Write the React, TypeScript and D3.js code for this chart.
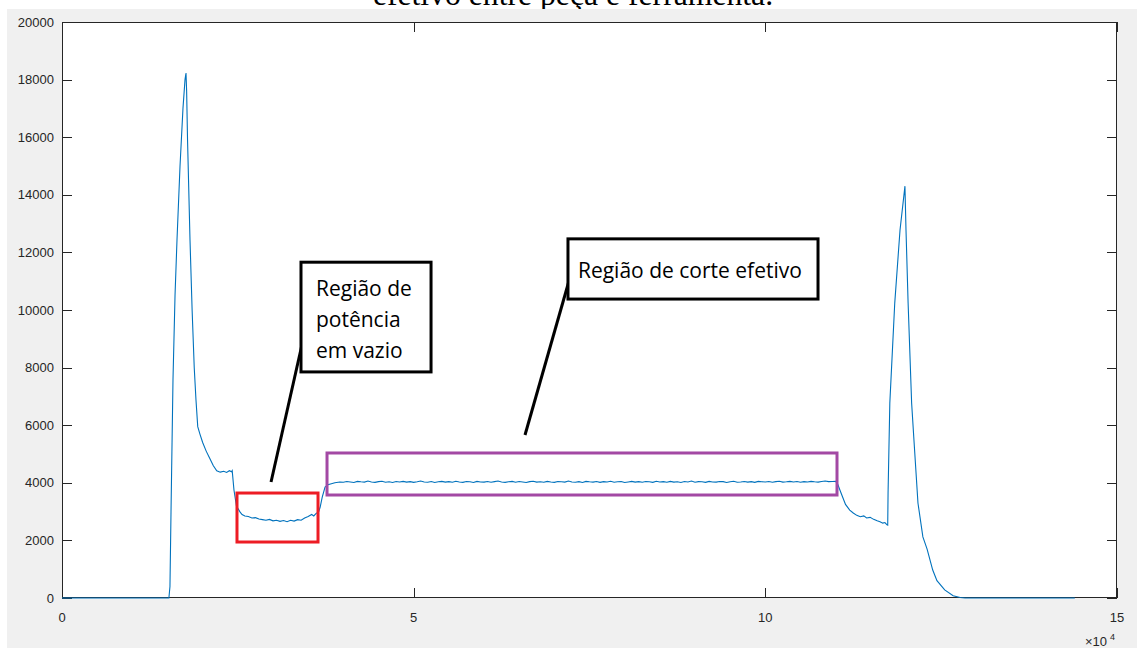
import React from 'react';
import * as d3 from 'd3';

// ---------- data (sample index, power) ----------
const headSamples = [0, 5000, 10000, 15200, 15350, 15500, 15780, 16070, 16350, 16780, 17200, 17490, 17630, 17720, 17850, 18200, 18500, 18800, 19050, 19300, 19600, 20000, 20500, 21000, 21500, 22000, 22500, 23000, 23400, 23800, 24100, 24200, 24450, 24800, 25300, 25600, 26000, 26500, 27000, 27500, 28000, 28500, 29000, 29500, 30000, 30500, 31000, 31500, 32000, 32500, 33000, 33500, 34000, 34500, 35000, 35500, 35800, 36100, 36500, 36700, 37000, 37400, 37800, 38300, 38800, 39500];
const headPower = [0, 0, 0, 0, 400, 3000, 7570, 10500, 12430, 15000, 17000, 18000, 18230, 17600, 15900, 12430, 10000, 8000, 6875, 5950, 5700, 5400, 5100, 4850, 4600, 4420, 4370, 4400, 4360, 4420, 4380, 4420, 3750, 3200, 2990, 2900, 2850, 2830, 2780, 2790, 2740, 2720, 2700, 2730, 2680, 2700, 2660, 2690, 2650, 2700, 2670, 2720, 2700, 2780, 2830, 2900, 2850, 2930, 3000, 3150, 3500, 3850, 3930, 3970, 4000, 4030];

const plateauStart = 40000;
const plateauStep = 500;
const plateauPower = [
  4020, 4045, 4030, 4010, 4050, 4035, 4025, 4060, 4030, 4015,
  4040, 4055, 4020, 4035, 4010, 4045, 4030, 4050, 4025, 4040,
  4015, 4035, 4060, 4030, 4020, 4045, 4010, 4035, 4050, 4025,
  4040, 4020, 4055, 4030, 4015, 4045, 4035, 4010, 4050, 4030,
  4025, 4045, 4020, 4040, 4060, 4030, 4015, 4035, 4050, 4020,
  4045, 4030, 4010, 4040, 4055, 4025, 4035, 4020, 4050, 4030,
  4015, 4045, 4035, 4025, 4060, 4030, 4020, 4040, 4010, 4050,
  4035, 4025, 4045, 4015, 4040, 4030, 4055, 4020, 4035, 4045,
  4010, 4030, 4050, 4025, 4040, 4020, 4045, 4035, 4015, 4055,
  4030, 4040, 4020, 4050, 4025, 4035, 4010, 4045, 4030, 4060,
  4020, 4040, 4035, 4015, 4050, 4030, 4025, 4045, 4040, 4010,
  4035, 4055, 4020, 4030, 4045, 4025, 4040, 4015, 4050, 4035,
  4030, 4045, 4020, 4040, 4055, 4025, 4035, 4050, 4030, 4045,
  4020, 4040, 4030, 4050, 4035, 4025, 4045, 4060, 4040, 4045,
];

const tailSamples = [110000, 110300, 110600, 111000, 111400, 112000, 112500, 113000, 113500, 114000, 114400, 114900, 115400, 115900, 116300, 116700, 117000, 117300, 117400, 117450, 117700, 118400, 119150, 119850, 120000, 120300, 120800, 121100, 121700, 122400, 123000, 123800, 124400, 125500, 126700, 127700, 128400, 135000, 144000];
const tailPower = [4050, 3950, 3750, 3500, 3250, 3050, 2950, 2870, 2820, 2850, 2780, 2800, 2730, 2680, 2650, 2600, 2620, 2540, 2530, 3645, 6770, 10240, 12780, 14300, 12780, 10240, 6770, 5600, 3300, 2120, 1700, 970, 600, 280, 80, 20, 0, 0, 0];

const yTicks = [0, 2000, 4000, 6000, 8000, 10000, 12000, 14000, 16000, 18000, 20000];
const xTicks = [0, 50000, 100000, 150000];
const xTickLabels = ['0', '5', '10', '15'];

const titleText = 'efetivo entre peça e ferramenta.';
const idleLabel = ['Região de', 'potência', 'em vazio'];
const cutLabel = 'Região de corte efetivo';

// annotation regions in data coordinates
const idleRegion = { x0: 24880, x1: 36400, y0: 1944, y1: 3645 };
const cutRegion = { x0: 37680, x1: 110190, y0: 3576, y1: 5035 };
const idleBox = { x0: 33980, x1: 52470, y0: 7850, y1: 11660 };
const cutBox = { x0: 71940, x1: 107490, y0: 10380, y1: 12470 };
const idlePointer = { x0: 29720, y0: 4028, x1: 34270, y1: 8958 };
const cutPointer = { x0: 65830, y0: 5660, x1: 72080, y1: 11007 };

const W = 1137;
const H = 648;
const L = 62, R = 1117, T = 22, B = 598;

export default function App() {
  const x = d3.scaleLinear().domain([0, 150000]).range([L, R]);
  const y = d3.scaleLinear().domain([0, 20000]).range([B, T]);

  const pts: [number, number][] = [];
  headSamples.forEach((s, i) => pts.push([s, headPower[i]]));
  plateauPower.forEach((p, i) => pts.push([plateauStart + i * plateauStep, p]));
  tailSamples.forEach((s, i) => pts.push([s, tailPower[i]]));

  const line = d3.line<[number, number]>().x(d => x(d[0])).y(d => y(d[1]));

  const axisColor = '#262626';
  const tickLen = 10;
  const font = "'Liberation Sans', Arial, sans-serif";
  const annFont = "'Open Sans', sans-serif";

  const rectOf = (r: { x0: number; x1: number; y0: number; y1: number }) => ({
    x: x(r.x0), y: y(r.y1), width: x(r.x1) - x(r.x0), height: y(r.y0) - y(r.y1),
  });

  const ib = rectOf(idleBox);
  const cb = rectOf(cutBox);

  return (
    <svg width={W} height={H} style={{ position: 'fixed', left: 0, top: 0, display: 'block' }}>
      <rect x={0} y={0} width={W} height={H} fill="#ffffff" />
      <text x={573} y={5} textAnchor="middle" fontFamily="'Liberation Serif', 'Times New Roman', serif" fontSize={31.7} fill="#000">{titleText}</text>
      <rect x={7} y={9} width={W - 7} height={H - 9} fill="#f0f0f0" />
      <rect x={L} y={T} width={R - L} height={B - T} fill="#ffffff" />

      {/* ticks */}
      {yTicks.map(t => (
        <g key={'y' + t}>
          <line x1={L} x2={L + tickLen} y1={Math.round(y(t)) + 0.5} y2={Math.round(y(t)) + 0.5} stroke={axisColor} strokeWidth={1} />
          <line x1={R - tickLen} x2={R} y1={Math.round(y(t)) + 0.5} y2={Math.round(y(t)) + 0.5} stroke={axisColor} strokeWidth={1} />
          <text x={54} y={y(t)} dy="0.35em" textAnchor="end" fontFamily={font} fontSize={13} fill={axisColor}>{t}</text>
        </g>
      ))}
      {xTicks.map((t, i) => (
        <g key={'x' + t}>
          <line x1={Math.round(x(t)) + 0.5} x2={Math.round(x(t)) + 0.5} y1={B - tickLen} y2={B} stroke={axisColor} strokeWidth={1} />
          <line x1={Math.round(x(t)) + 0.5} x2={Math.round(x(t)) + 0.5} y1={T} y2={T + tickLen} stroke={axisColor} strokeWidth={1} />
          <text x={x(t)} y={622} textAnchor="middle" fontFamily={font} fontSize={13} fill={axisColor}>{xTickLabels[i]}</text>
        </g>
      ))}
      <text x={1085} y={646} fontFamily={font} fontSize={13} fill={axisColor}>×10</text>
      <text x={1110} y={640} fontFamily={font} fontSize={9} fill={axisColor}>4</text>

      {/* frame */}
      <rect x={L + 0.5} y={T + 0.5} width={R - L - 1} height={B - T - 1} fill="none" stroke={axisColor} strokeWidth={1} />

      {/* data */}
      <path d={line(pts) || ''} fill="none" stroke="#0072BD" strokeWidth={1.1} />

      {/* annotations */}
      <rect {...rectOf(idleRegion)} fill="none" stroke="#ed1c24" strokeWidth={3} />
      <rect {...rectOf(cutRegion)} fill="none" stroke="#a349a4" strokeWidth={3} />

      <line x1={x(idlePointer.x0)} y1={y(idlePointer.y0)} x2={x(idlePointer.x1)} y2={y(idlePointer.y1)} stroke="#000" strokeWidth={3} />
      <line x1={x(cutPointer.x0)} y1={y(cutPointer.y0)} x2={x(cutPointer.x1)} y2={y(cutPointer.y1)} stroke="#000" strokeWidth={3} />

      <rect {...ib} fill="#ffffff" stroke="#000" strokeWidth={3} />
      {idleLabel.map((s, i) => (
        <text key={s} x={ib.x + 15} y={ib.y + 34 + i * 31} fontFamily={annFont} fontSize={21} fill="#000">{s}</text>
      ))}
      <rect {...cb} fill="#ffffff" stroke="#000" strokeWidth={3} />
      <text x={cb.x + 10} y={cb.y + 39} fontFamily={annFont} fontSize={21} fill="#000">{cutLabel}</text>
    </svg>
  );
}
